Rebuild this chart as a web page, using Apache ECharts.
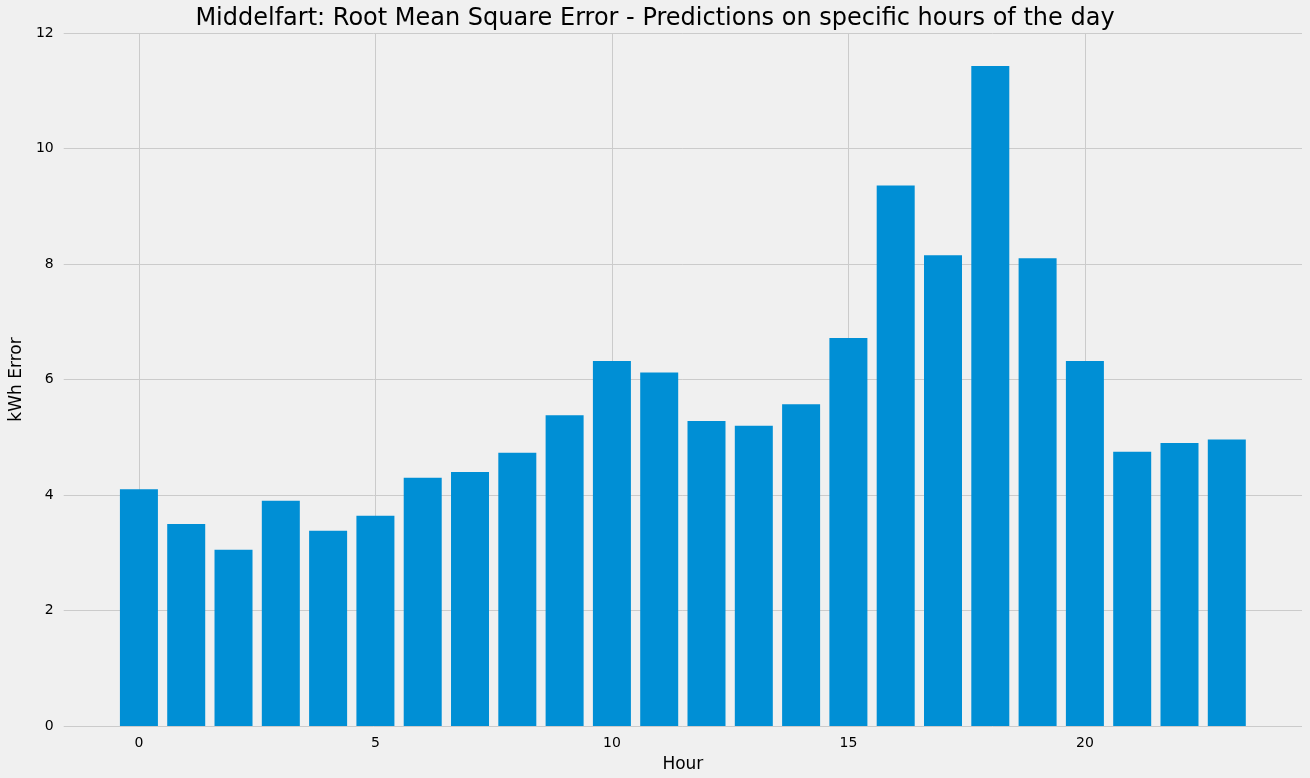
<html><head><meta charset="utf-8">
<script src="https://cdn.jsdelivr.net/npm/echarts@6/dist/echarts.min.js"></script>
<style>html,body{margin:0;background:#f0f0f0}#c{width:1310px;height:778px}</style></head>
<body><div id="c"></div><script>
const hours=[0,1,2,3,4,5,6,7,8,9,10,11,12,13,14,15,16,17,18,19,20,21,22,23];
const rmse=[4.1,3.5,3.05,3.9,3.38,3.64,4.3,4.4,4.73,5.38,6.32,6.12,5.28,5.2,5.57,6.72,9.36,8.15,11.43,8.1,6.32,4.75,4.9,4.96];
const xTicks=[0,5,10,15,20];
const chart=echarts.init(document.getElementById('c'));
chart.setOption({
backgroundColor:'#f0f0f0',animation:false,
title:{text:'Middelfart: Root Mean Square Error - Predictions on specific hours of the day',left:'center',top:2,textStyle:{fontFamily:'DejaVu Sans',fontSize:24,fontWeight:'normal',color:'#000'}},
grid:{left:51,right:8,top:33,bottom:46},
xAxis:{type:'value',min:-1.59,max:24.59,name:'Hour',nameLocation:'middle',nameGap:30,nameTextStyle:{fontFamily:'DejaVu Sans',fontSize:17,color:'#000'},
axisLine:{show:false},axisTick:{show:false,customValues:xTicks},
axisLabel:{customValues:xTicks,fontFamily:'DejaVu Sans',fontSize:14,color:'#000',margin:10},
splitLine:{show:true,lineStyle:{color:'#cbcbcb',width:1}}},
yAxis:{type:'value',min:0,max:12,interval:2,name:'kWh Error',nameLocation:'middle',nameGap:32,nameTextStyle:{fontFamily:'DejaVu Sans',fontSize:17,color:'#000'},
axisLine:{show:false},axisTick:{show:false},axisLabel:{fontFamily:'DejaVu Sans',fontSize:14,color:'#000',margin:10},
splitLine:{lineStyle:{color:'#cbcbcb',width:1}}},
series:[{type:'bar',data:hours.map((h,i)=>[h,rmse[i]]),barWidth:38,itemStyle:{color:'#008fd5'}}]
});
</script></body></html>
